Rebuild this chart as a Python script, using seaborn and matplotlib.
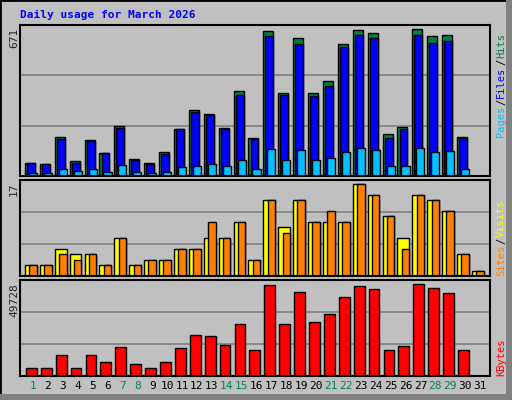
import matplotlib
matplotlib.use("Agg")
import matplotlib.pyplot as plt
import seaborn as sns
import numpy as np
import pandas as pd
from matplotlib.patches import Rectangle

days = list(range(1, 32))
hits = [58,54,179,68,165,105,230,77,58,109,216,304,285,220,388,176,664,382,631,382,437,603,668,654,192,225,671,641,645,179,0]
files = [58,54,170,58,160,105,220,72,54,100,216,294,277,216,373,170,641,372,603,368,410,590,645,631,174,216,645,608,618,174,0]
pages = [12,12,31,22,31,17,50,17,12,17,41,45,54,45,73,31,124,73,119,73,82,109,128,119,45,45,128,109,114,31,0]
sites = [2,2,5,4,4,2,7,2,3,3,5,5,7,7,10,3,14,9,14,10,10,10,17,15,11,7,15,14,12,4,1]
visits = [2,2,4,3,4,2,7,2,3,3,5,5,10,7,10,3,14,8,14,10,12,10,17,15,11,5,15,14,12,4,1]
kbytes = [4520,4520,11570,4520,11570,7780,15370,6690,4520,7780,14830,21880,21340,16460,27850,13740,49000,27850,45210,28930,33270,42500,48460,46830,13740,15910,49728,47380,44670,13740,0]
weekends = [1,7,8,14,15,21,22,28,29]
title = "Daily usage for March 2026"

sns.set_style("white")
plt.rcParams['font.family'] = ['DejaVu Sans Mono', 'DejaVu Sans']
BG = "#C0C0C0"
fig = plt.figure(figsize=(5.12, 4.0), dpi=100, facecolor=BG)
W, H = 512, 400
fig.add_artist(Rectangle((0, 0), 1, 1, transform=fig.transFigure, fill=False, edgecolor="black", lw=2))
fig.add_artist(Rectangle((0, 0), 1, 6/H, transform=fig.transFigure, color="#808080", lw=0))
fig.add_artist(Rectangle((1-6/W, 0), 6/W, 1, transform=fig.transFigure, color="#808080", lw=0))

def mkax(top, bot):
    ax = fig.add_axes([20/W, 1-bot/H, 470/W, (bot-top)/H])
    ax.set_facecolor(BG)
    for s in ax.spines.values():
        s.set_color("black"); s.set_linewidth(1.5)
    ax.set_xlim(1-13/14.9, 31+10/14.9)
    ax.set_xticks([]); ax.set_yticks([])
    return ax

x = np.array(days, dtype=float)
ec = dict(edgecolor="black", linewidth=1)

ax1 = mkax(25, 176)
top1 = max(hits)*1.03
ax1.set_ylim(0, top1)
for g in (top1/3, 2*top1/3):
    ax1.axhline(g, color="#808080", lw=1.2, zorder=0)
ax1.bar(x-0.54, hits, width=0.67, align="edge", color="#008040", **ec)
ax1.bar(x-0.40, files, width=0.53, align="edge", color="#0000FF", **ec)
ax1.bar(x-0.27, pages, width=0.54, align="edge", color="#00C0FF", **ec)

ax2 = mkax(180, 276)
top2 = max(sites)*1.04
ax2.set_ylim(0, top2)
for g in (top2/3, 2*top2/3):
    ax2.axhline(g, color="#808080", lw=1.2, zorder=0)
ax2.bar(x-0.54, sites, width=0.79, align="edge", color="#FFFF00", **ec)
ax2.bar(x-0.25, visits, width=0.50, align="edge", color="#FF8000", **ec)

ax3 = mkax(280, 376)
top3 = max(kbytes)*1.04
ax3.set_ylim(0, top3)
for g in (top3/3, 2*top3/3):
    ax3.axhline(g, color="#808080", lw=1.2, zorder=0)
df = pd.DataFrame({"day": x - 0.11, "kb": kbytes})
sns.barplot(data=df, x="day", y="kb", native_scale=True, width=0.72, color="#FF0000",
            edgecolor="black", linewidth=1, saturation=1, ax=ax3)
ax3.set_xlim(1-13/14.9, 31+10/14.9)
ax3.set_xlabel(""); ax3.set_ylabel(""); ax3.set_xticks([]); ax3.set_yticks([])

for d in days:
    ax3.text(d, -0.1, str(d), transform=ax3.get_xaxis_transform(), ha="center", va="center",
             fontsize=8, color="#00805C" if d in weekends else "black")

fig.text(20/W, 1-15/H, title, fontsize=8, fontweight="bold", color="#0000FF", va="center")

for lbl, y in ((f"{max(hits)}", 25), (f"{max(sites)}", 180), (f"{max(kbytes)}", 280)):
    fig.text(14/W, 1-(y+3)/H, lbl, rotation=90, fontsize=8, ha="center", va="top")

fig.canvas.draw()
renderer = fig.canvas.get_renderer()

def rlabel(parts, ybot):
    y = ybot
    for txt, col in parts:
        t = fig.text(501/W, 1-y/H, txt, rotation=90, fontsize=7.5, color=col, ha="center", va="bottom")
        bb = t.get_window_extent(renderer)
        y -= bb.height + 1

rlabel([("Pages", "#00C0FF"), ("/", "black"), ("Files", "#0000FF"), ("/", "black"), ("Hits", "#008040")], 137)
rlabel([("Sites", "#FF8000"), ("/", "black"), ("Visits", "#FFFF00")], 276)
rlabel([("KBytes", "#FF0000")], 376)

fig.savefig("out.png", dpi=100, facecolor=BG)
